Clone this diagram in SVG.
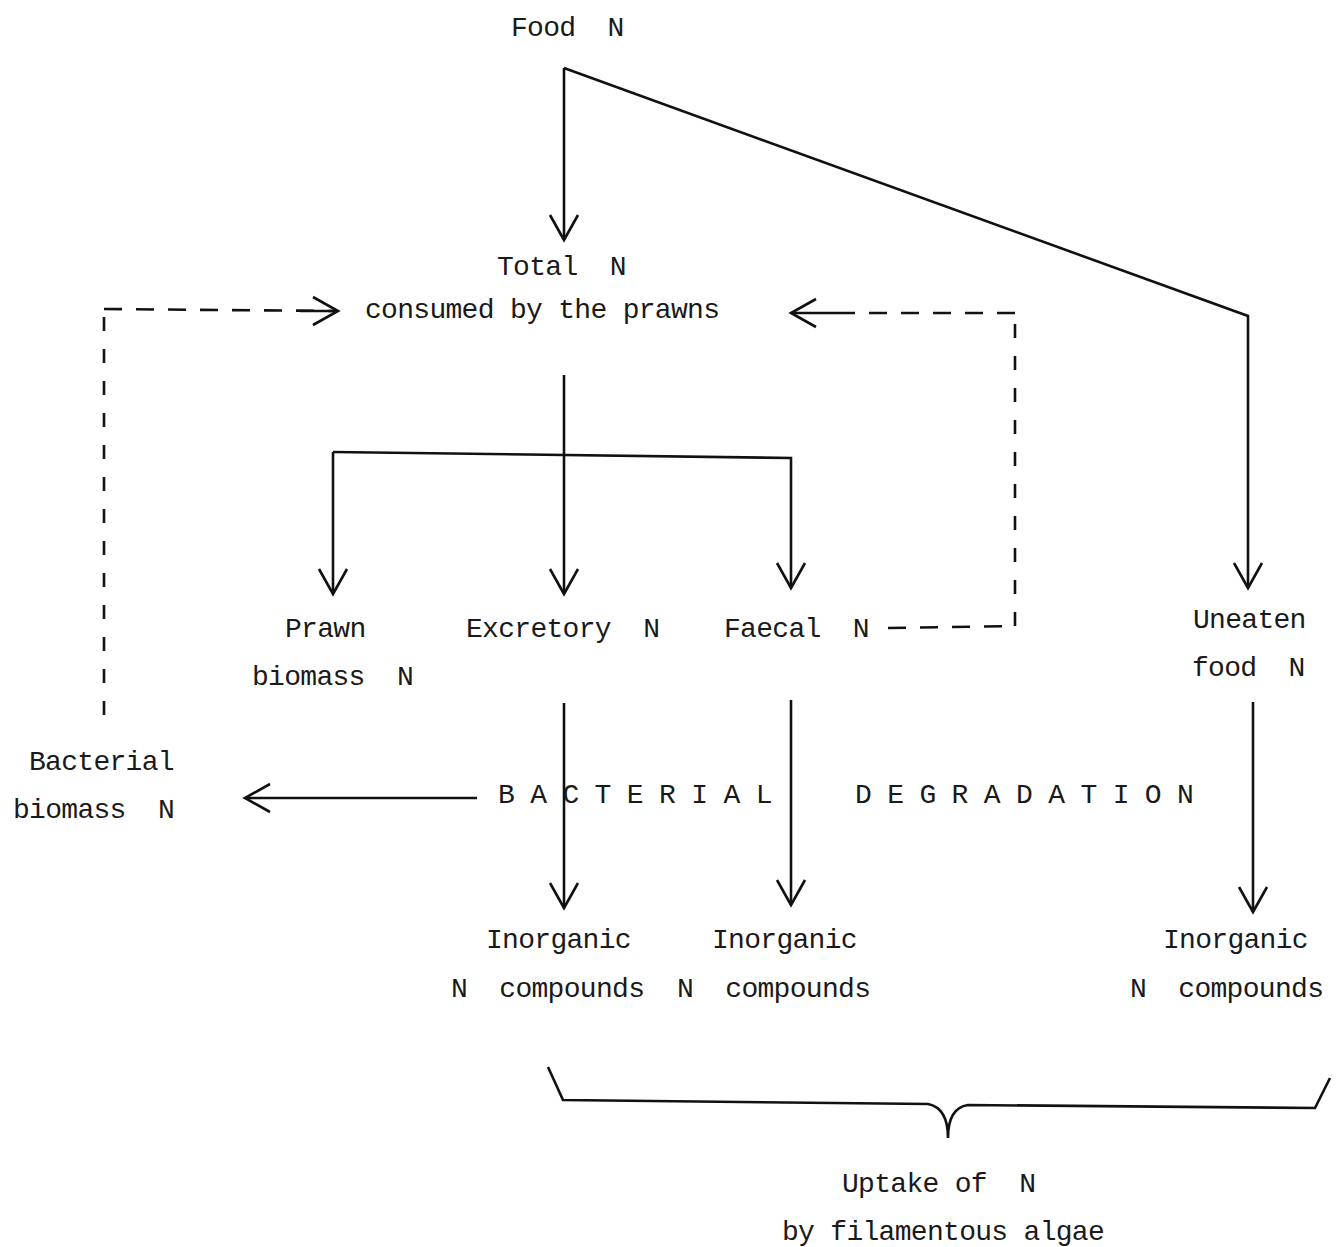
<svg xmlns="http://www.w3.org/2000/svg" width="1343" height="1247" viewBox="0 0 1343 1247">
<style>
text{font-family:"Liberation Mono","DejaVu Sans Mono",monospace;font-size:28px;letter-spacing:-0.7px;fill:#1a1a1a;white-space:pre}
.ln{stroke:#111;stroke-width:2.6;fill:none}
.ds{stroke:#111;stroke-width:2.6;fill:none;stroke-dasharray:18 14}
.dv{stroke:#111;stroke-width:2.6;fill:none;stroke-dasharray:14 18}
</style>
<defs>
<marker id="ah" markerUnits="userSpaceOnUse" markerWidth="40" markerHeight="40" refX="0" refY="0" viewBox="-30 -20 34 40" orient="auto" overflow="visible">
<path d="M-25,-14 L0,0 L-25,14" fill="none" stroke="#111" stroke-width="2.6"/>
</marker>
</defs>
<g id="food"><text xml:space="preserve" x="511" y="36">Food  N</text></g>
<g id="total"><text xml:space="preserve" x="497" y="275">Total  N</text><text xml:space="preserve" x="365" y="318">consumed by the prawns</text></g>
<g id="prawn"><text xml:space="preserve" x="285" y="637">Prawn</text><text xml:space="preserve" x="252" y="685">biomass  N</text></g>
<g id="excretory"><text xml:space="preserve" x="466" y="637">Excretory  N</text></g>
<g id="faecal"><text xml:space="preserve" x="724" y="637">Faecal  N</text></g>
<g id="uneaten"><text xml:space="preserve" x="1193" y="628">Uneaten</text><text xml:space="preserve" x="1192" y="676">food  N</text></g>
<g id="bacterial"><text xml:space="preserve" x="29" y="770">Bacterial</text><text xml:space="preserve" x="13" y="818">biomass  N</text></g>
<g id="degradation"><text xml:space="preserve" x="498" y="803">B A C T E R I A L</text><text xml:space="preserve" x="855" y="803">D E G R A D A T I O N</text></g>
<g id="inorg1"><text xml:space="preserve" x="486" y="948">Inorganic</text><text xml:space="preserve" x="451" y="997">N  compounds</text></g>
<g id="inorg2"><text xml:space="preserve" x="712" y="948">Inorganic</text><text xml:space="preserve" x="677" y="997">N  compounds</text></g>
<g id="inorg3"><text xml:space="preserve" x="1163" y="948">Inorganic</text><text xml:space="preserve" x="1130" y="997">N  compounds</text></g>
<g id="uptake"><text xml:space="preserve" x="842" y="1192">Uptake of  N</text><text xml:space="preserve" x="782" y="1240">by filamentous algae</text></g>
<g id="connectors">
<path class="ln" d="M564,68 L564,240" marker-end="url(#ah)"/>
<path class="ln" d="M564,68 L1248,316 L1248,588" marker-end="url(#ah)"/>
<path class="ln" d="M564,375 L564,594" marker-end="url(#ah)"/>
<path class="ln" d="M333,452 L791,458 L791,588" marker-end="url(#ah)"/>
<path class="ln" d="M333,452 L333,594" marker-end="url(#ah)"/>
<path class="dv" d="M104,715 L104,309"/>
<path class="ds" d="M104,309 L336,311"/>
<path class="ln" d="M300,311 L338,311" marker-end="url(#ah)"/>
<path class="ds" d="M888,628 L1015,626"/>
<path class="dv" d="M1015,626 L1015,313"/>
<path class="ds" d="M1015,313 L850,313"/>
<path class="ln" d="M850,313 L791,313" marker-end="url(#ah)"/>
<path class="ln" d="M564,703 L564,908" marker-end="url(#ah)"/>
<path class="ln" d="M791,700 L791,905" marker-end="url(#ah)"/>
<path class="ln" d="M1253,702 L1253,912" marker-end="url(#ah)"/>
<path class="ln" d="M477,798 L245,798" marker-end="url(#ah)"/>
<path class="ln" d="M548,1067 L563,1100 L928,1104 Q948,1108 948,1138 Q948,1108 968,1105 L1315,1108 L1330,1078"/>
</g>
</svg>
